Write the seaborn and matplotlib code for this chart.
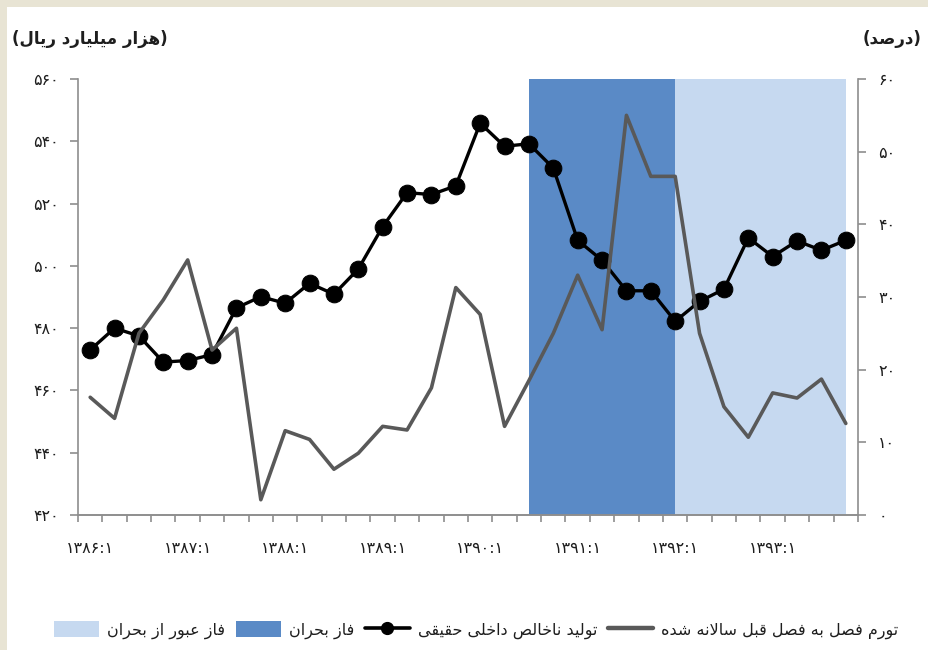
import numpy as np
import pandas as pd
import matplotlib
matplotlib.use("Agg")
import matplotlib.pyplot as plt
from matplotlib.patches import Patch, Rectangle
from matplotlib.lines import Line2D
import seaborn as sns

# ---------------- data ----------------
quarters = ['۱۳۸۶:۱', '۱۳۸۶:۲', '۱۳۸۶:۳', '۱۳۸۶:۴',
            '۱۳۸۷:۱', '۱۳۸۷:۲', '۱۳۸۷:۳', '۱۳۸۷:۴',
            '۱۳۸۸:۱', '۱۳۸۸:۲', '۱۳۸۸:۳', '۱۳۸۸:۴',
            '۱۳۸۹:۱', '۱۳۸۹:۲', '۱۳۸۹:۳', '۱۳۸۹:۴',
            '۱۳۹۰:۱', '۱۳۹۰:۲', '۱۳۹۰:۳', '۱۳۹۰:۴',
            '۱۳۹۱:۱', '۱۳۹۱:۲', '۱۳۹۱:۳', '۱۳۹۱:۴',
            '۱۳۹۲:۱', '۱۳۹۲:۲', '۱۳۹۲:۳', '۱۳۹۲:۴',
            '۱۳۹۳:۱', '۱۳۹۳:۲', '۱۳۹۳:۳', '۱۳۹۳:۴']
gdp = [473.0, 480.0, 477.5, 469.1, 469.6, 471.5, 486.5, 490.1,
       488.0, 494.4, 490.9, 499.0, 512.6, 523.5, 522.9, 525.7,
       545.8, 538.4, 539.2, 531.4, 508.2, 501.8, 492.0, 492.0,
       482.2, 488.6, 492.5, 509.0, 503.0, 508.0, 505.0, 508.2]
inflation = [16.2, 13.3, 25.0, 29.6, 35.1, 22.7, 25.7, 2.1,
             11.6, 10.4, 6.3, 8.5, 12.2, 11.7, 17.5, 31.3,
             27.6, 12.2, 18.5, 25.0, 33.0, 25.5, 55.0, 46.6,
             46.6, 25.0, 14.9, 10.7, 16.8, 16.1, 18.7, 12.6]
xtick_labels = ['۱۳۸۶:۱', '۱۳۸۷:۱', '۱۳۸۸:۱', '۱۳۸۹:۱',
                '۱۳۹۰:۱', '۱۳۹۱:۱', '۱۳۹۲:۱', '۱۳۹۳:۱']
left_ticks = [420, 440, 460, 480, 500, 520, 540, 560]
left_labels = ['۴۲۰', '۴۴۰', '۴۶۰', '۴۸۰', '۵۰۰', '۵۲۰', '۵۴۰', '۵۶۰']
right_ticks = [0, 10, 20, 30, 40, 50, 60]
right_labels = ['۰', '۱۰', '۲۰', '۳۰', '۴۰', '۵۰', '۶۰']
crisis_start, crisis_end = '۱۳۹۰:۳', '۱۳۹۲:۱'
transit_start, transit_end = '۱۳۹۲:۱', '۱۳۹۳:۴'

title_left = '(هزار میلیارد ریال)'
title_right = '(درصد)'
lbl_infl = 'تورم فصل به فصل قبل سالانه شده'
lbl_gdp = 'تولید ناخالص داخلی حقیقی'
lbl_crisis = 'فاز بحران'
lbl_transit = 'فاز عبور از بحران'

# ---------------- Persian shaping ----------------
FORMS = {
    'ا': ('\uFE8D', '\uFE8E', None, None),
    'آ': ('\uFE81', '\uFE82', None, None),
    'ب': ('\uFE8F', '\uFE90', '\uFE91', '\uFE92'),
    'پ': ('\uFB56', '\uFB57', '\uFB58', '\uFB59'),
    'ت': ('\uFE95', '\uFE96', '\uFE97', '\uFE98'),
    'ث': ('\uFE99', '\uFE9A', '\uFE9B', '\uFE9C'),
    'ج': ('\uFE9D', '\uFE9E', '\uFE9F', '\uFEA0'),
    'چ': ('\uFB7A', '\uFB7B', '\uFB7C', '\uFB7D'),
    'ح': ('\uFEA1', '\uFEA2', '\uFEA3', '\uFEA4'),
    'خ': ('\uFEA5', '\uFEA6', '\uFEA7', '\uFEA8'),
    'د': ('\uFEA9', '\uFEAA', None, None),
    'ذ': ('\uFEAB', '\uFEAC', None, None),
    'ر': ('\uFEAD', '\uFEAE', None, None),
    'ز': ('\uFEAF', '\uFEB0', None, None),
    'ژ': ('\uFB8A', '\uFB8B', None, None),
    'س': ('\uFEB1', '\uFEB2', '\uFEB3', '\uFEB4'),
    'ش': ('\uFEB5', '\uFEB6', '\uFEB7', '\uFEB8'),
    'ص': ('\uFEB9', '\uFEBA', '\uFEBB', '\uFEBC'),
    'ض': ('\uFEBD', '\uFEBE', '\uFEBF', '\uFEC0'),
    'ط': ('\uFEC1', '\uFEC2', '\uFEC3', '\uFEC4'),
    'ظ': ('\uFEC5', '\uFEC6', '\uFEC7', '\uFEC8'),
    'ع': ('\uFEC9', '\uFECA', '\uFECB', '\uFECC'),
    'غ': ('\uFECD', '\uFECE', '\uFECF', '\uFED0'),
    'ف': ('\uFED1', '\uFED2', '\uFED3', '\uFED4'),
    'ق': ('\uFED5', '\uFED6', '\uFED7', '\uFED8'),
    'ک': ('\uFB8E', '\uFB8F', '\uFB90', '\uFB91'),
    'گ': ('\uFB92', '\uFB93', '\uFB94', '\uFB95'),
    'ل': ('\uFEDD', '\uFEDE', '\uFEDF', '\uFEE0'),
    'م': ('\uFEE1', '\uFEE2', '\uFEE3', '\uFEE4'),
    'ن': ('\uFEE5', '\uFEE6', '\uFEE7', '\uFEE8'),
    'و': ('\uFEED', '\uFEEE', None, None),
    'ه': ('\uFEE9', '\uFEEA', '\uFEEB', '\uFEEC'),
    'ی': ('\uFBFC', '\uFBFD', '\uFBFE', '\uFBFF'),
}


def fa(text):
    chars = list(text)
    n = len(chars)
    res = []
    i = 0
    while i < n:
        c = chars[i]
        if c not in FORMS:
            res.append(c)
            i += 1
            continue
        prev = chars[i - 1] if i > 0 else None
        joins_prev = prev in FORMS and FORMS[prev][2] is not None
        if c == 'ل' and i + 1 < n and chars[i + 1] == 'ا':
            res.append('\uFEFC' if joins_prev else '\uFEFB')
            i += 2
            continue
        nxt = chars[i + 1] if i + 1 < n else None
        iso, fin, ini, med = FORMS[c]
        joins_next = ini is not None and nxt in FORMS
        if joins_prev and joins_next:
            g = med
        elif joins_prev:
            g = fin
        elif joins_next:
            g = ini
        else:
            g = iso
        res.append(g)
        i += 1
    s = ''.join(res)[::-1]
    return s.translate(str.maketrans('()', ')('))


# ---------------- plot ----------------
sns.set_theme(style="white")
plt.rcParams['font.family'] = ['DejaVu Sans', 'Noto Sans']

df = pd.DataFrame({'pos': np.arange(len(quarters)), 'quarter': quarters,
                   'gdp': gdp, 'inflation': inflation})

fig = plt.figure(figsize=(9.29, 6.5), dpi=100)
fig.patch.set_facecolor('white')
fig.patches.append(Rectangle((0, 1 - 7 / 650), 1, 7 / 650, transform=fig.transFigure,
                             facecolor='#E8E4D4', edgecolor='none', zorder=0))
fig.patches.append(Rectangle((0, 0), 7 / 929, 1, transform=fig.transFigure,
                             facecolor='#E8E4D4', edgecolor='none', zorder=0))

ax = fig.add_axes([78 / 929, 1 - 515 / 650, (858 - 78) / 929, (515 - 79) / 650])
ax.set_facecolor('none')
ax2 = ax.twinx()

crisis_color = '#5A8AC6'
transit_color = '#C6D9F0'
ax.axvspan(quarters.index(crisis_start), quarters.index(crisis_end),
           color=crisis_color, lw=0, zorder=0)
ax.axvspan(quarters.index(transit_start), quarters.index(transit_end),
           color=transit_color, lw=0, zorder=0)

sns.lineplot(data=df, x='pos', y='gdp', ax=ax, color='black', linewidth=2.4,
             marker='o', markersize=12, markeredgecolor='black', zorder=3)
sns.lineplot(data=df, x='pos', y='inflation', ax=ax2, color='#595959',
             linewidth=2.6, zorder=4)

ax.set_xlim(-0.5, len(quarters) - 0.5)
ax.set_ylim(420, 560)
ax2.set_ylim(0, 60)
ax.set_xlabel('')
ax.set_ylabel('')
ax2.set_ylabel('')

spine_c = '#8E8E8E'
for a in (ax, ax2):
    a.spines['top'].set_visible(False)
    for s in ('left', 'right', 'bottom'):
        a.spines[s].set_color(spine_c)
        a.spines[s].set_linewidth(1.2)
ax.spines['right'].set_visible(False)
ax2.spines['left'].set_visible(False)

tick_font = dict(fontsize=11.5, color='#1e1e1e')
ax.set_yticks(left_ticks)
ax.set_yticklabels(left_labels, **tick_font)
ax2.set_yticks(right_ticks)
ax2.set_yticklabels(right_labels, **tick_font)
ax.tick_params(axis='y', direction='out', length=5.5, width=1.2, color=spine_c,
               pad=8, left=True)
ax2.tick_params(axis='y', direction='out', length=5.5, width=1.2, color=spine_c,
                pad=9, right=True)

label_pos = [quarters.index(q) for q in xtick_labels]
ax.set_xticks(label_pos)
ax.set_xticklabels(xtick_labels, **tick_font)
ax.set_xticks(np.arange(-0.5, len(quarters), 1.0), minor=True)
ax.tick_params(axis='x', which='major', length=0, pad=19, bottom=True)
ax.tick_params(axis='x', which='minor', direction='out', length=5, width=1.2,
               color=spine_c, bottom=True)
ax.grid(False)
ax2.grid(False)

fig.text(12 / 929, 1 - 39 / 650, fa(title_left), ha='left', va='center',
         fontsize=12, fontweight='bold', color='#1e1e1e')
fig.text(922 / 929, 1 - 39 / 650, fa(title_right), ha='right', va='center',
         fontsize=12, fontweight='bold', color='#1e1e1e')

handles = [
    Patch(facecolor=transit_color, edgecolor='none'),
    Patch(facecolor=crisis_color, edgecolor='none'),
    Line2D([], [], color='black', linewidth=2.6, marker='o', markersize=8.5),
    Line2D([], [], color='#595959', linewidth=3.2),
]
labels = [fa(lbl_transit), fa(lbl_crisis), fa(lbl_gdp), fa(lbl_infl)]
fig.legend(handles, labels, loc='center', bbox_to_anchor=(476 / 929, 1 - 630 / 650),
           ncol=4, frameon=False, fontsize=11.5, handlelength=2.8, handleheight=1.1,
           handletextpad=0.5, columnspacing=0.7, labelcolor='#1e1e1e')

fig.savefig('out.png', dpi=100, facecolor=fig.get_facecolor())
